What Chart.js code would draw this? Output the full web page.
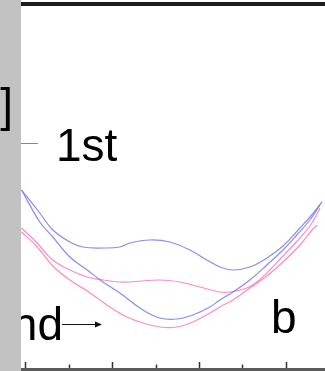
<!DOCTYPE html>
<html>
<head>
<meta charset="utf-8">
<style>
  html, body { margin: 0; padding: 0; background: #fff; }
  #wrap { position: relative; width: 325px; height: 371px; }
</style>
<script src="https://cdn.jsdelivr.net/npm/chart.js@4"></script>
</head>
<body>
<div id="wrap"><canvas id="cv" width="325" height="371"></canvas></div>
<script>
// potential (V) and current (a.u.)
const blue1E = [-0.008, 0.034, 0.064, 0.103, 0.133, 0.179, 0.218, 0.241, 0.287, 0.333, 0.379, 0.418, 0.448, 0.478, 0.517, 0.556, 0.593, 0.632, 0.655, 0.683];
const blue1I = [1.79, 1.56, 1.39, 1.27, 1.22, 1.21, 1.22, 1.26, 1.29, 1.27, 1.19, 1.09, 1.02, 0.99, 1.02, 1.11, 1.23, 1.41, 1.52, 1.67];

const blue2E = [-0.008, 0.034, 0.064, 0.103, 0.143, 0.179, 0.218, 0.271, 0.310, 0.349, 0.386, 0.425, 0.448, 0.478, 0.517, 0.556, 0.593, 0.625, 0.655, 0.678];
const blue2I = [1.79, 1.47, 1.32, 1.12, 0.99, 0.87, 0.76, 0.59, 0.51, 0.50, 0.54, 0.62, 0.69, 0.77, 0.89, 1.04, 1.19, 1.34, 1.49, 1.64];

const pink1E = [-0.008, 0.028, 0.064, 0.103, 0.143, 0.179, 0.218, 0.241, 0.310, 0.356, 0.402, 0.448, 0.471, 0.510, 0.533, 0.563, 0.593, 0.632, 0.655, 0.674, 0.678];
const pink1I = [1.41, 1.26, 1.09, 0.99, 0.92, 0.89, 0.87, 0.87, 0.89, 0.87, 0.82, 0.77, 0.77, 0.81, 0.87, 0.99, 1.13, 1.31, 1.43, 1.57, 1.61];

const pink2E = [-0.008, 0.028, 0.064, 0.103, 0.143, 0.195, 0.234, 0.271, 0.310, 0.349, 0.386, 0.425, 0.448, 0.478, 0.517, 0.556, 0.593, 0.632, 0.660, 0.672];
const pink2I = [1.37, 1.22, 1.03, 0.89, 0.78, 0.62, 0.52, 0.46, 0.42, 0.42, 0.47, 0.56, 0.62, 0.69, 0.81, 0.93, 1.07, 1.24, 1.39, 1.44];

const tickE = [0, 0.1, 0.2, 0.3, 0.4, 0.5, 0.6];

const BLUE = "rgba(110,110,240,0.8)";
const PINK = "rgba(255,110,180,0.8)";

const pts = (xs, ys) => xs.map((x, i) => ({ x, y: ys[i] }));
const line = (xs, ys, color) => ({
    data: pts(xs, ys),
    borderColor: color,
    borderWidth: 1.2,
    pointRadius: 0,
    tension: 0.4,
    fill: false
});

// frame, ticks, labels, grey side strip
const decor = {
    id: "decor",
    afterDraw(chart) {
        const { ctx, chartArea: a, scales: { x } } = chart;
        ctx.save();

        ctx.strokeStyle = "#1c1c1c";
        ctx.lineWidth = 4;
        ctx.beginPath(); ctx.moveTo(a.left, 4); ctx.lineTo(a.right, 4); ctx.stroke();

        ctx.strokeStyle = "#5a5a5a";
        ctx.lineWidth = 3;
        ctx.beginPath(); ctx.moveTo(a.left, 369.5); ctx.lineTo(a.right, 369.5); ctx.stroke();

        ctx.strokeStyle = "#333";
        ctx.lineWidth = 1.5;
        tickE.forEach((v, i) => {
            const px = Math.round(x.getPixelForValue(v)) + 0.5;
            const len = i % 2 === 0 ? 6 : 3.5;
            ctx.beginPath(); ctx.moveTo(px, 368); ctx.lineTo(px, 368 - len); ctx.stroke();
        });

        ctx.fillStyle = "#000";
        ctx.font = "46px 'Liberation Sans', Arial, sans-serif";
        ctx.textBaseline = "alphabetic";
        ctx.textAlign = "left";
        ctx.fillText("1st", 56, 161);
        ctx.fillText("b", 271, 333);
        ctx.textAlign = "right";
        ctx.fillText("2nd", 63, 340);

        ctx.strokeStyle = "#888";
        ctx.lineWidth = 1;
        ctx.beginPath(); ctx.moveTo(5, 143.5); ctx.lineTo(38, 143.5); ctx.stroke();

        ctx.strokeStyle = "#111";
        ctx.beginPath(); ctx.moveTo(62, 324.5); ctx.lineTo(98, 324.5); ctx.stroke();
        ctx.fillStyle = "#111";
        ctx.beginPath(); ctx.moveTo(102, 324.5); ctx.lineTo(95, 321.5); ctx.lineTo(95, 327.5); ctx.closePath(); ctx.fill();

        ctx.fillStyle = "#c2c2c2";
        ctx.fillRect(0, 0, 21, 371);

        ctx.fillStyle = "#000";
        ctx.textAlign = "right";
        ctx.fillText("]", 13, 121);
        ctx.restore();
    }
};

new Chart(document.getElementById("cv"), {
    type: "line",
    data: {
        datasets: [
            line(blue1E, blue1I, BLUE),
            line(blue2E, blue2I, BLUE),
            line(pink1E, pink1I, PINK),
            line(pink2E, pink2I, PINK)
        ]
    },
    options: {
        responsive: false,
        animation: false,
        events: [],
        layout: { padding: { left: 21, top: 4, right: 0, bottom: 2 } },
        plugins: { legend: { display: false }, tooltip: { enabled: false } },
        scales: {
            x: { type: "linear", display: false, min: -4 / 435, max: 300 / 435 },
            y: { type: "linear", display: false, min: 0, max: 3.65 }
        }
    },
    plugins: [decor]
});
</script>
</body>
</html>
